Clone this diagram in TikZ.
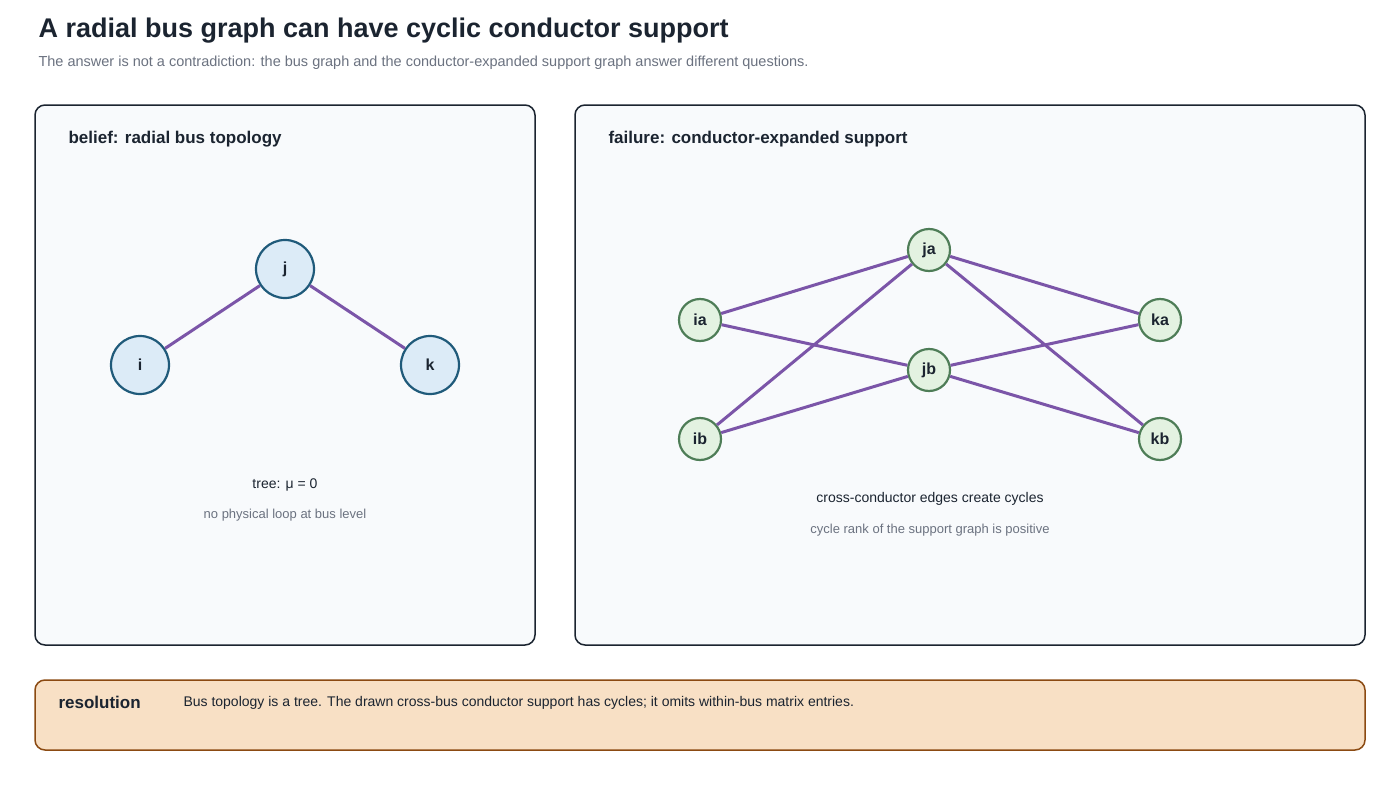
\documentclass[tikz,border=0pt]{standalone}
\usepackage{fontspec}
\setmainfont{Liberation Sans}
\definecolor{ink}{HTML}{1B2430}
\definecolor{muted}{HTML}{6B7280}
\definecolor{panelbg}{HTML}{F8FAFC}
\definecolor{busfill}{HTML}{DCEBF7}
\definecolor{busline}{HTML}{1F5A7A}
\definecolor{condfill}{HTML}{E3F2E1}
\definecolor{condline}{HTML}{4E7D57}
\definecolor{edgec}{HTML}{7B55A8}
\definecolor{resfill}{HTML}{F8E0C5}
\definecolor{resline}{HTML}{8B4A12}
\newcommand{\fs}[1]{\fontsize{#1}{#1}\selectfont}
\begin{document}
\begin{tikzpicture}[x=1pt,y=-1pt,
  panel/.style={draw=ink, line width=1.5pt, fill=panelbg, rounded corners=10pt},
  bus/.style={circle, draw=busline, fill=busfill, line width=2.2pt, minimum size=58pt, inner sep=0pt, font=\fs{16}\bfseries, text=ink},
  cond/.style={circle, draw=condline, fill=condfill, line width=2.2pt, minimum size=42pt, inner sep=0pt, font=\fs{16}\bfseries, text=ink},
  edge/.style={draw=edgec, line width=3pt},
  note/.style={font=\fs{14}, text=ink},
  subnote/.style={font=\fs{13}, text=muted}]
  \useasboundingbox (0,0) rectangle (1400,800);
  \fill[white] (0,0) rectangle (1400,800);
  % title
  \node[anchor=west, font=\fs{27}\bfseries, text=ink] (title) at (35,31) {A radial bus graph can have cyclic conductor support};
  \node[anchor=west, font=\fs{14.5}, text=muted] (subtitle) at (35,63) {The answer is not a contradiction: the bus graph and the conductor-expanded support graph answer different questions.};
  % panels
  \draw[panel] (35,105) rectangle (535,645);
  \draw[panel] (575,105) rectangle (1365,645);
  \node[anchor=west, font=\fs{17}\bfseries, text=ink] (lefttitle) at (65,139) {belief: radial bus topology};
  \node[anchor=west, font=\fs{17}\bfseries, text=ink] (righttitle) at (605,139) {failure: conductor-expanded support};
  % bus graph
  \node[bus] (j) at (285,269) {j};
  \node[bus] (i) at (140,365) {i};
  \node[bus] (k) at (430,365) {k};
  \path[edge] (i) -- (j);
  \path[edge] (j) -- (k);
  \node[note] (tree) at (285,485) {tree: μ = 0};
  \node[subnote] (noloop) at (285,515) {no physical loop at bus level};
  % conductor graph
  \node[cond] (ja) at (929,250) {ja};
  \node[cond] (jb) at (929,370) {jb};
  \node[cond] (ia) at (700,320) {ia};
  \node[cond] (ib) at (700,439) {ib};
  \node[cond] (ka) at (1160,320) {ka};
  \node[cond] (kb) at (1160,439) {kb};
  \foreach \a/\b in {ia/ja, ia/jb, ib/ja, ib/jb, ja/ka, ja/kb, jb/ka, jb/kb}
    \path[edge] (\a) -- (\b);
  \node[note] (cross) at (930,499) {cross-conductor edges create cycles};
  \node[subnote] (rank) at (930,530) {cycle rank of the support graph is positive};
  % resolution
  \draw[draw=resline, line width=1.5pt, fill=resfill, rounded corners=10pt] (35,680) rectangle (1365,750);
  \node[anchor=west, font=\fs{17}\bfseries, text=ink] (res) at (55,702) {resolution};
  \node[anchor=west, font=\fs{14}, text=ink] (restext) at (180,703) {Bus topology is a tree. The drawn cross-bus conductor support has cycles; it omits within-bus matrix entries.};
\end{tikzpicture}
\end{document}
